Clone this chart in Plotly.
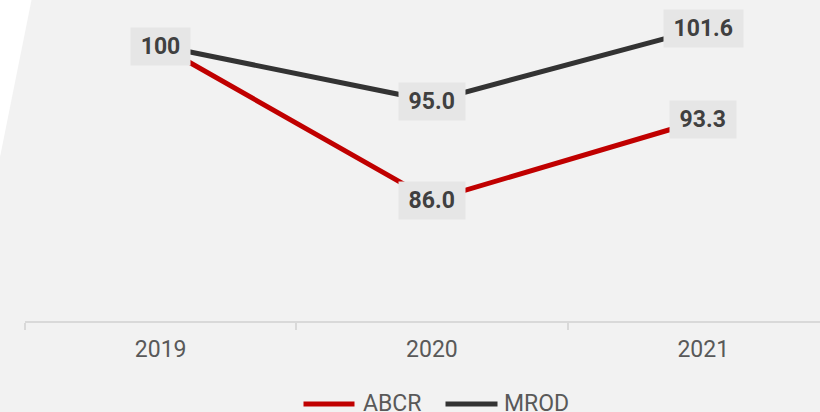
import plotly.graph_objects as go

categories = ["2019", "2020", "2021"]
abcr = [100, 86.0, 93.3]
mrod = [100, 95.0, 101.6]
abcr_labels = ["100", "86.0", "93.3"]
mrod_labels = ["100", "95.0", "101.6"]

RED = "#c00000"
DARK = "#333333"
BG = "#f2f2f2"
LABEL_BG = "#e6e6e6"
LABEL_FG = "#404040"
TICK_FG = "#595959"
FONT = "Roboto"

W, H = 820, 412
ML, MB = 25, 91
PW, PH = W - ML, H - MB


def px_to_paper(x, y):
    return (x - ML) / PW, (PH - y) / PH


def label_width(s):
    w = 0
    for ch in s:
        w += 6.5 if ch == "." else 13
    return w + 20


fig = go.Figure()
fig.add_trace(go.Scatter(x=categories, y=abcr, mode="lines", name="ABCR",
                         line=dict(color=RED, width=5), showlegend=False))
fig.add_trace(go.Scatter(x=categories, y=mrod, mode="lines", name="MROD",
                         line=dict(color=DARK, width=5), showlegend=False))

annotations = []
label_font = dict(family=FONT, size=23, color=LABEL_FG, weight="bold")
# data labels (the shared 2019 value is labelled once)
for i, (v, t) in enumerate(zip(mrod, mrod_labels)):
    annotations.append(dict(x=i, y=v, text=t, showarrow=False, xref="x", yref="y",
                            bgcolor=LABEL_BG, width=label_width(t), height=37, borderpad=0,
                            font=label_font))
for i, (v, t) in enumerate(zip(abcr, abcr_labels)):
    if i == 0:
        continue
    annotations.append(dict(x=i, y=v, text=t, showarrow=False, xref="x", yref="y",
                            bgcolor=LABEL_BG, width=label_width(t), height=37, borderpad=0,
                            font=label_font))

# custom legend
shapes = []
legend_items = [("ABCR", RED, 303.5, 354.5, 361), ("MROD", DARK, 445.5, 497.5, 502)]
for name, col, x0, x1, tx in legend_items:
    a0, b0 = px_to_paper(x0, 404)
    a1, b1 = px_to_paper(x1, 404)
    shapes.append(dict(type="line", xref="paper", yref="paper", x0=a0, y0=b0, x1=a1, y1=b1,
                       line=dict(color=col, width=5)))
    ta, tb = px_to_paper(tx, 403)
    annotations.append(dict(x=ta, y=tb, xref="paper", yref="paper", text=name, showarrow=False,
                            xanchor="left", yanchor="middle",
                            font=dict(family=FONT, size=23, color=TICK_FG)))

# white background corner
p0 = px_to_paper(0, 0)
p1 = px_to_paper(31.5, 0)
p2 = px_to_paper(0, 157)
shapes.append(dict(type="path", xref="paper", yref="paper", layer="below",
                   path=f"M {p0[0]},{p0[1]} L {p1[0]},{p1[1]} L {p2[0]},{p2[1]} Z",
                   fillcolor="white", line=dict(width=0)))

fig.update_layout(
    width=W, height=H,
    margin=dict(l=ML, r=0, t=0, b=MB, pad=0),
    paper_bgcolor=BG, plot_bgcolor="rgba(0,0,0,0)",
    showlegend=False,
    annotations=annotations, shapes=shapes,
    xaxis=dict(type="category", range=[-0.5, -0.5 + PW / 271.3], tickson="boundaries",
               showgrid=False, zeroline=False, showline=True, linecolor="#d9d9d9", linewidth=2,
               ticks="outside", ticklen=7, tickcolor="#d9d9d9", tickwidth=2,
               tickfont=dict(family=FONT, size=23, color=TICK_FG), ticklabelstandoff=6),
    yaxis=dict(range=[75.02, 104.18], showticklabels=False, ticks="", showline=False,
               showgrid=False, zeroline=False),
)

fig.write_html("out.html")
